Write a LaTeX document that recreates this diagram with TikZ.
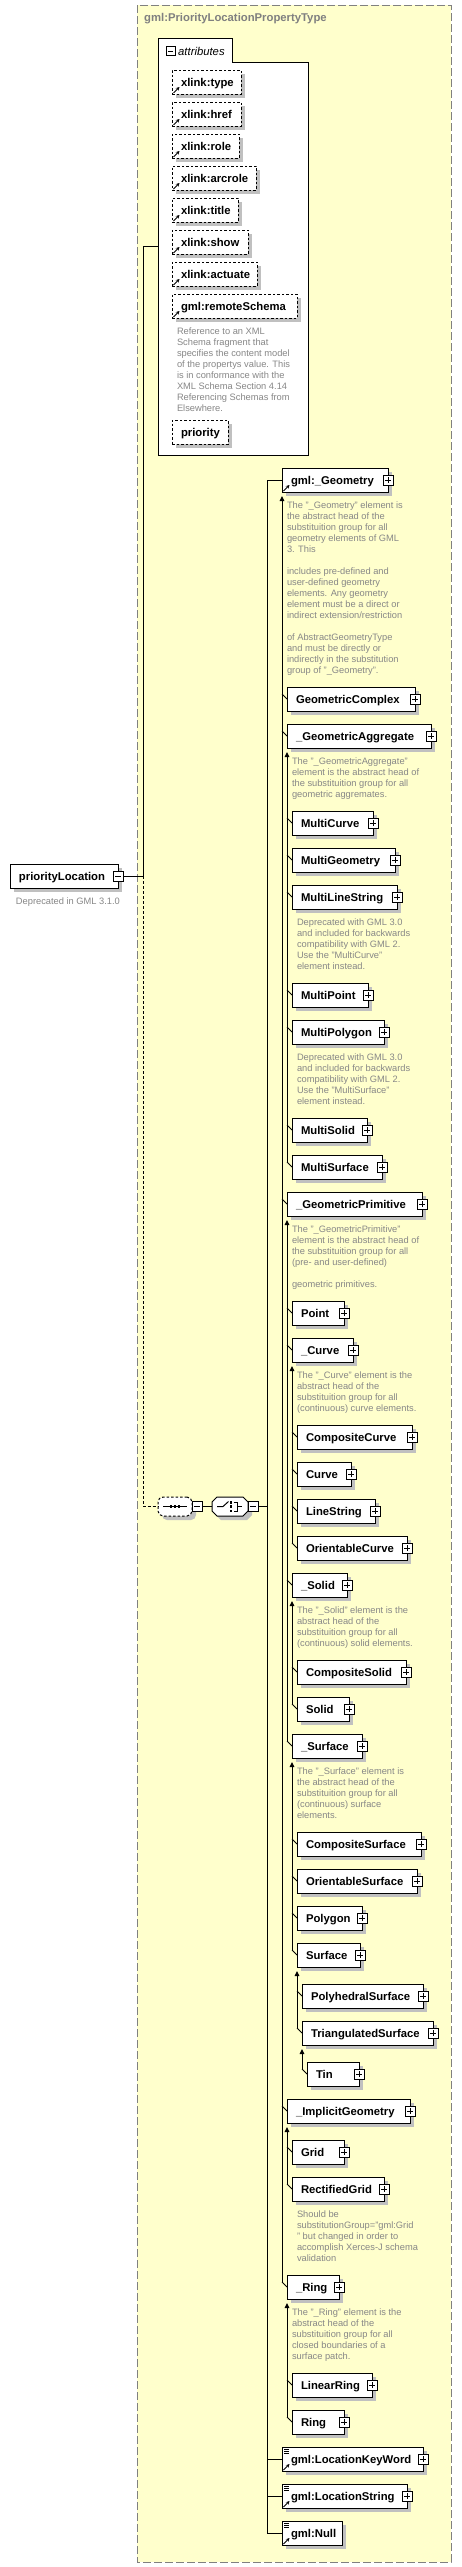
\documentclass[tikz,border=0pt]{standalone}
\usepackage{fontspec}
\setmainfont{Liberation Sans}
\usetikzlibrary{arrows.meta,calc}
\definecolor{bgy}{RGB}{255,255,204}
\definecolor{shc}{RGB}{192,192,192}
\definecolor{bord}{RGB}{128,128,128}
\definecolor{desc}{RGB}{135,135,135}
\tikzset{
 elbox/.style={draw, line width=1pt, fill=white, anchor=north west, minimum height=24pt,
   inner xsep=9pt, inner ysep=0pt, outer sep=0pt, text height=9.2pt, text depth=1pt,
   font=\fontsize{11.3}{13}\selectfont\bfseries, align=left},
 attbox/.style={dash pattern=on 2.5pt off 2pt},
 pbox/.style={draw, line width=0.8pt, fill=white, minimum size=10pt, inner sep=0pt, outer sep=0pt},
 desctext/.style={anchor=north west, inner sep=0pt, outer sep=0pt, text=desc,
   font=\fontsize{9.3}{11}\selectfont, align=left},
 conn/.style={line width=1pt},
 subarr/.style={line width=1pt, -{Triangle[length=5pt,width=4.5pt]}},
}
\newcommand\mkelem[6][]{%
  \fill[shc] (#3+4,#4+4) rectangle (#5+4,#4+28);
  \pgfmathsetmacro\mytw{#5-#3-18}%
  \node[elbox,#1,text width=\mytw pt] (#2) at (#3,#4) {\mbox{#6}};
}
\newcommand\plusbox[1]{%
  \node[pbox] (#1p) at (#1.east) {};
  \draw[line width=0.8pt] ([xshift=-3pt]#1p.center) -- ([xshift=3pt]#1p.center)
     ([yshift=-3pt]#1p.center) -- ([yshift=3pt]#1p.center);
}
\newcommand\minusbox[1]{%
  \node[pbox] (#1m) at (#1.east) {};
  \draw[line width=0.8pt] ([xshift=-3pt]#1m.center) -- ([xshift=3pt]#1m.center);
}
\newcommand\refarr[1]{%
  \draw[line width=1pt,-{Stealth[length=3.5pt,width=3.5pt]}] ([shift={(1.5pt,1pt)}]#1.south west) -- ++(6pt,6pt);
}
\newcommand\eqicon[1]{%
  \draw[line width=0.7pt] ([shift={(2pt,-2pt)}]#1.north west) -- ++(5pt,0pt)
    ([shift={(2pt,-4pt)}]#1.north west) -- ++(5pt,0pt)
    ([shift={(2pt,-6pt)}]#1.north west) -- ++(5pt,0pt);
}
\newcommand\subtick[1]{\draw[conn] ([shift={(-5pt,5pt)}]#1.west) -- (#1.west);}
\newcommand\subvert[2]{\draw[subarr] ([shift={(-5pt,5pt)}]#2.west) -- ([yshift=-4pt]#1.south west);}

\begin{document}
\begin{tikzpicture}[x=1pt,y=-1pt]
\useasboundingbox (0,0) rectangle (461,2567);
\fill[white] (0,0) rectangle (461,2567);
\draw[bord, line width=1pt, dash pattern=on 8pt off 3pt, fill=bgy] (137,5) rectangle (451,2562);
\node[anchor=west, inner sep=0pt, text=bord, font=\fontsize{11.3}{13}\selectfont\bfseries] (title) at (144,19) {gml:PriorityLocationPropertyType};

% attributes container
\draw[line width=1pt, fill=white] (158,38) -- (232,38) -- (232,62) -- (308,62) -- (308,455) -- (158,455) -- cycle;
\node[pbox, minimum size=9pt] (attm) at (170.5,51) {};
\draw[line width=0.8pt] ([xshift=-2.5pt]attm.center) -- ([xshift=2.5pt]attm.center);
\node[anchor=west, inner sep=0pt, font=\fontsize{11.3}{13}\selectfont\itshape] (attl) at (178,51) {attributes};
\coordinate (attL) at (158,246.5);

\mkelem[attbox]{atype}{172}{70}{241}{xlink:type}\refarr{atype}
\mkelem[attbox]{ahref}{172}{102}{241}{xlink:href}\refarr{ahref}
\mkelem[attbox]{arole}{172}{134}{239}{xlink:role}\refarr{arole}
\mkelem[attbox]{aarc}{172}{166}{256}{xlink:arcrole}\refarr{aarc}
\mkelem[attbox]{atitle}{172}{198}{238}{xlink:title}\refarr{atitle}
\mkelem[attbox]{ashow}{172}{230}{248}{xlink:show}\refarr{ashow}
\mkelem[attbox]{aact}{172}{262}{257}{xlink:actuate}\refarr{aact}
\mkelem[attbox]{arem}{172}{294}{297}{gml:remoteSchema}\refarr{arem}
\node[desctext] (drem) at (177,326) {\rule{0pt}{8pt}Reference to an XML\\Schema fragment that\\specifies the content model\\of the propertys value. This\\is in conformance with the\\XML Schema Section 4.14\\Referencing Schemas from\\Elsewhere.};
\mkelem[attbox]{aprio}{172}{420}{228}{priority}

% priorityLocation
\mkelem{pl}{10}{864}{118}{priorityLocation}\minusbox{pl}
\node[desctext] (dpl) at (16,896) {\rule{0pt}{8pt}Deprecated in GML 3.1.0};
\path (pl.east) ++(25,0) coordinate (bj);
\coordinate (btop) at (143,246.5);

% sequence
\fill[shc, rounded corners=5pt] (162,1501) rectangle (196,1520);
\node[draw, line width=1pt, dash pattern=on 2.5pt off 2pt, rounded corners=5pt, fill=white,
  minimum width=34pt, minimum height=19pt, inner sep=0pt, outer sep=0pt] (seq) at (175,1506.5) {};
\draw[line width=1pt] ([xshift=-12pt]seq.center) -- ([xshift=12pt]seq.center);
\fill ([shift={(-5.2pt,-1.3pt)}]seq.center) rectangle ++(2.6pt,2.6pt);
\fill ([shift={(-1.3pt,-1.3pt)}]seq.center) rectangle ++(2.6pt,2.6pt);
\fill ([shift={(2.6pt,-1.3pt)}]seq.center) rectangle ++(2.6pt,2.6pt);
\node[pbox] (seqm) at ([xshift=5pt]seq.east) {};
\draw[line width=0.8pt] ([xshift=-3pt]seqm.center) -- ([xshift=3pt]seqm.center);

% choice
\fill[shc] (221,1501) -- (247,1501) -- (252,1506) -- (252,1515) -- (247,1520) -- (221,1520) -- (216,1515) -- (216,1506) -- cycle;
\node[inner sep=0pt, outer sep=0pt, minimum width=36pt, minimum height=19pt] (cho) at (230,1506.5) {};
\draw[line width=1pt, fill=white] (217,1497) -- (243,1497) -- (248,1502) -- (248,1511) -- (243,1516) -- (217,1516) -- (212,1511) -- (212,1502) -- cycle;
\draw[line width=1pt] ([xshift=-13pt]cho.center) -- ([xshift=-7pt]cho.center) -- ([shift={(-1.5pt,5pt)}]cho.center);
\fill ([shift={(-0.5pt,3pt)}]cho.center) rectangle ++(2.6pt,2.6pt);
\fill ([shift={(-0.5pt,-1.3pt)}]cho.center) rectangle ++(2.6pt,2.6pt);
\fill ([shift={(-0.5pt,-5.6pt)}]cho.center) rectangle ++(2.6pt,2.6pt);
\draw[line width=1pt] ([shift={(3.5pt,4.5pt)}]cho.center) -- ([shift={(7pt,4.5pt)}]cho.center) -- ([shift={(7pt,-4.5pt)}]cho.center) -- ([shift={(3.5pt,-4.5pt)}]cho.center)
   ([shift={(7pt,0pt)}]cho.center) -- ([shift={(12pt,0pt)}]cho.center);
\node[pbox] (chom) at ([xshift=23pt]cho.center) {};
\draw[line width=0.8pt] ([xshift=-3pt]chom.center) -- ([xshift=3pt]chom.center);
\coordinate (cv) at (267,1506.5);

% choice members
\mkelem{geo}{282}{468}{388}{gml:\_Geometry}\plusbox{geo}\refarr{geo}
\node[desctext] (dgeo) at (287,500) {\rule{0pt}{8pt}The "\_Geometry" element is\\the abstract head of the\\substituition group for all\\geometry elements of GML\\3. This\\[11pt]includes pre-defined and\\user-defined geometry\\elements. Any geometry\\element must be a direct or\\indirect extension/restriction\\[11pt]of AbstractGeometryType\\and must be directly or\\indirectly in the substitution\\group of "\_Geometry".};
\mkelem{lkw}{282}{2447}{423}{gml:LocationKeyWord}\plusbox{lkw}\refarr{lkw}\eqicon{lkw}
\mkelem{lstg}{282}{2484}{407}{gml:LocationString}\plusbox{lstg}\refarr{lstg}\eqicon{lstg}
\mkelem{null}{282}{2521}{342}{gml:Null}\refarr{null}\eqicon{null}

% level A
\mkelem{gcx}{287}{687}{415}{GeometricComplex}\plusbox{gcx}
\mkelem{gagg}{287}{724}{431}{\_GeometricAggregate}\plusbox{gagg}
\node[desctext] (dagg) at (292,756) {\rule{0pt}{8pt}The "\_GeometricAggregate"\\element is the abstract head of\\the substituition group for all\\geometric aggremates.};
\mkelem{gprim}{287}{1192}{422}{\_GeometricPrimitive}\plusbox{gprim}
\node[desctext] (dprim) at (292,1224) {\rule{0pt}{8pt}The "\_GeometricPrimitive"\\element is the abstract head of\\the substituition group for all\\(pre- and user-defined)\\[11pt]geometric primitives.};
\mkelem{gimp}{287}{2099}{410}{\_ImplicitGeometry}\plusbox{gimp}
\mkelem{gring}{287}{2275}{339}{\_Ring}\plusbox{gring}
\node[desctext] (dring) at (292,2307) {\rule{0pt}{8pt}The "\_Ring" element is the\\abstract head of the\\substituition group for all\\closed boundaries of a\\surface patch.};

% level B
\mkelem{mcur}{292}{811}{373}{MultiCurve}\plusbox{mcur}
\mkelem{mgeo}{292}{848}{395}{MultiGeometry}\plusbox{mgeo}
\mkelem{mls}{292}{885}{397}{MultiLineString}\plusbox{mls}
\node[desctext] (dmls) at (297,917) {\rule{0pt}{8pt}Deprecated with GML 3.0\\and included for backwards\\compatibility with GML 2.\\Use the "MultiCurve"\\element instead.};
\mkelem{mpt}{292}{983}{368}{MultiPoint}\plusbox{mpt}
\mkelem{mpoly}{292}{1020}{384}{MultiPolygon}\plusbox{mpoly}
\node[desctext] (dmpo) at (297,1052) {\rule{0pt}{8pt}Deprecated with GML 3.0\\and included for backwards\\compatibility with GML 2.\\Use the "MultiSurface"\\element instead.};
\mkelem{msol}{292}{1118}{367}{MultiSolid}\plusbox{msol}
\mkelem{msurf}{292}{1155}{382}{MultiSurface}\plusbox{msurf}

% level C
\mkelem{point}{292}{1301}{344}{Point}\plusbox{point}
\mkelem{curvea}{292}{1338}{353}{\_Curve}\plusbox{curvea}
\node[desctext] (dcur) at (297,1370) {\rule{0pt}{8pt}The "\_Curve" element is the\\abstract head of the\\substituition group for all\\(continuous) curve elements.};
\mkelem{solida}{292}{1573}{347}{\_Solid}\plusbox{solida}
\node[desctext] (dsol) at (297,1605) {\rule{0pt}{8pt}The "\_Solid" element is the\\abstract head of the\\substituition group for all\\(continuous) solid elements.};
\mkelem{surfa}{292}{1734}{362}{\_Surface}\plusbox{surfa}
\node[desctext] (dsur) at (297,1766) {\rule{0pt}{8pt}The "\_Surface" element is\\the abstract head of the\\substituition group for all\\(continuous) surface\\elements.};

% level D
\mkelem{ccur}{297}{1425}{412}{CompositeCurve}\plusbox{ccur}
\mkelem{curve}{297}{1462}{351}{Curve}\plusbox{curve}
\mkelem{lstr}{297}{1499}{375}{LineString}\plusbox{lstr}
\mkelem{ocur}{297}{1536}{407}{OrientableCurve}\plusbox{ocur}
% level E
\mkelem{csol}{297}{1660}{406}{CompositeSolid}\plusbox{csol}
\mkelem{solid}{297}{1697}{349}{Solid}\plusbox{solid}
% level F
\mkelem{csurf}{297}{1832}{421}{CompositeSurface}\plusbox{csurf}
\mkelem{osurf}{297}{1869}{417}{OrientableSurface}\plusbox{osurf}
\mkelem{polyg}{297}{1906}{362}{Polygon}\plusbox{polyg}
\mkelem{surface}{297}{1943}{360}{Surface}\plusbox{surface}
% level G, H
\mkelem{phs}{302}{1984}{423}{PolyhedralSurface}\plusbox{phs}
\mkelem{tris}{302}{2021}{433}{TriangulatedSurface}\plusbox{tris}
\mkelem{tin}{307}{2062}{359}{Tin}\plusbox{tin}
% level I
\mkelem{grid}{292}{2140}{344}{Grid}\plusbox{grid}
\mkelem{rgrid}{292}{2177}{384}{RectifiedGrid}\plusbox{rgrid}
\node[desctext] (drg) at (297,2209) {\rule{0pt}{8pt}Should be\\substitutionGroup="gml:Grid\\" but changed in order to\\accomplish Xerces-J schema\\validation};
% level J
\mkelem{lring}{292}{2373}{372}{LinearRing}\plusbox{lring}
\mkelem{ring}{292}{2410}{344}{Ring}\plusbox{ring}

% connectors: left part
\draw[conn] (plm.east) -- (bj) -- (btop) -- (attL);
\draw[conn, dash pattern=on 3pt off 2pt] (bj) -- (bj |- seq.west) -- (seq.west);
\draw[conn] (seqm.east) -- (cho.west);
\draw[conn] (chom.east) -- (cv);
\draw[conn] (cv |- geo.west) -- (cv |- null.west);
\draw[conn] (cv |- geo.west) -- (geo.west);
\draw[conn] (cv |- lkw.west) -- (lkw.west);
\draw[conn] (cv |- lstg.west) -- (lstg.west);
\draw[conn] (cv |- null.west) -- (null.west);

% substitution groups
\subvert{geo}{gring}
\subtick{gcx}\subtick{gagg}\subtick{gprim}\subtick{gimp}\subtick{gring}
\subvert{gagg}{msurf}
\subtick{mcur}\subtick{mgeo}\subtick{mls}\subtick{mpt}\subtick{mpoly}\subtick{msol}\subtick{msurf}
\subvert{gprim}{surfa}
\subtick{point}\subtick{curvea}\subtick{solida}\subtick{surfa}
\subvert{curvea}{ocur}
\subtick{ccur}\subtick{curve}\subtick{lstr}\subtick{ocur}
\subvert{solida}{solid}
\subtick{csol}\subtick{solid}
\subvert{surfa}{surface}
\subtick{csurf}\subtick{osurf}\subtick{polyg}\subtick{surface}
\subvert{surface}{tris}
\subtick{phs}\subtick{tris}
\subvert{tris}{tin}
\subtick{tin}
\subvert{gimp}{rgrid}
\subtick{grid}\subtick{rgrid}
\subvert{gring}{ring}
\subtick{lring}\subtick{ring}
\end{tikzpicture}
\end{document}
